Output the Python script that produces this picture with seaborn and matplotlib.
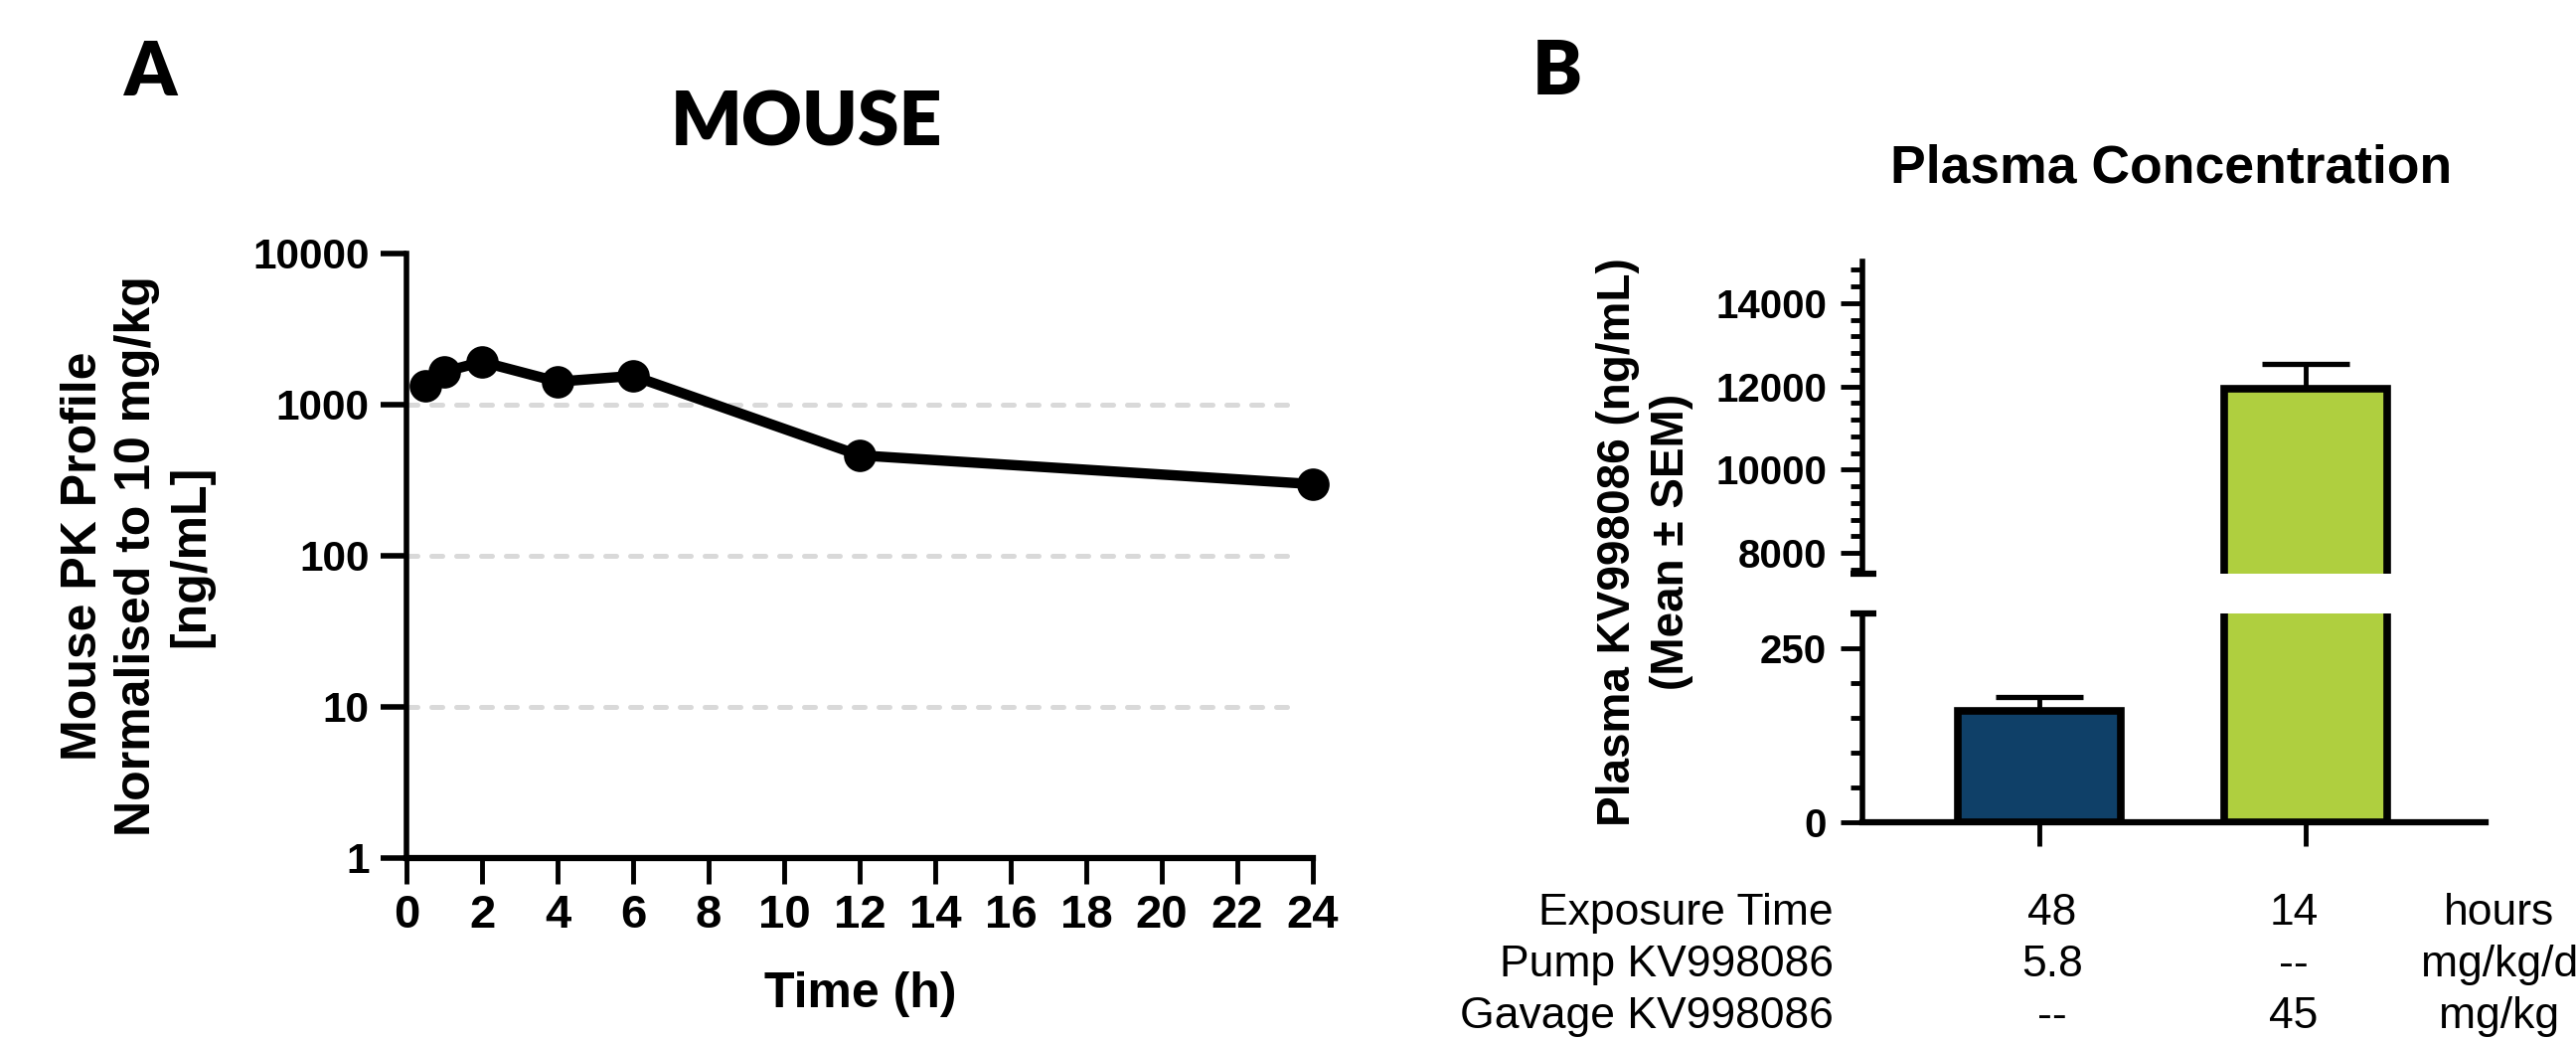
import numpy as np
import pandas as pd
import matplotlib
matplotlib.use("Agg")
import matplotlib.pyplot as plt
from matplotlib.ticker import MultipleLocator, NullLocator, FixedLocator
import seaborn as sns

# ---------------- data ----------------
# Panel A: mouse PK profile (normalised to 10 mg/kg)
time_h = [0.5, 1, 2, 4, 6, 12, 24]
conc_ng_ml = [1330, 1650, 1920, 1420, 1550, 462, 298]
a_yticks = [1, 10, 100, 1000, 10000]
a_grid_levels = [10, 100, 1000]
a_xticks = list(range(0, 25, 2))

# Panel B: plasma concentration (mean +/- SEM)
groups = ["Pump", "Gavage"]
mean_conc = [160, 11950]
sem_conc = [20, 600]
bar_colors = ["#0F4068", "#AFCF3F"]
upper_ticks = [8000, 10000, 12000, 14000]
lower_ticks = [0, 250]
lower_minor = [50, 100, 150, 200]

table_rows = ["Exposure Time", "Pump KV998086", "Gavage KV998086"]
table_col1 = ["48", "5.8", "--"]
table_col2 = ["14", "--", "45"]
table_units = ["hours", "mg/kg/d", "mg/kg"]

# ---------------- style ----------------
sns.set_style("ticks")
plt.rcParams["font.family"] = ["Liberation Sans", "DejaVu Sans"]
plt.rcParams.update({
    "text.color": "black", "axes.labelcolor": "black",
    "xtick.color": "black", "ytick.color": "black",
    "axes.edgecolor": "black",
})

W, H = 2592, 1047
fig = plt.figure(figsize=(W / 100, H / 100), dpi=100)


def px_axes(l, t, r, b):
    return fig.add_axes([l / W, 1 - b / H, (r - l) / W, (b - t) / H])


# ================= Panel A =================
axA = px_axes(409, 255, 1321, 863)
dfA = pd.DataFrame({"time": time_h, "conc": conc_ng_ml})
sns.lineplot(data=dfA, x="time", y="conc", ax=axA, color="black", lw=7.5,
             marker="o", markersize=23.5, markeredgewidth=0, errorbar=None,
             clip_on=False, zorder=5)
axA.set_yscale("log")
axA.set_ylim(1, 10000)
axA.set_xlim(0, 24)
for g in a_grid_levels:
    axA.axhline(g, color="#D9D9D9", lw=3.6, ls=(0, (2.2, 2.8)),
                dash_capstyle="round", xmax=0.985, zorder=0)

axA.set_yticks(a_yticks)
axA.set_yticklabels([str(v) for v in a_yticks])
axA.yaxis.set_minor_locator(NullLocator())
axA.set_xticks(a_xticks)
axA.set_xticklabels([str(v) for v in a_xticks])
for s in ["top", "right"]:
    axA.spines[s].set_visible(False)
axA.spines["left"].set_linewidth(4)
axA.spines["bottom"].set_linewidth(4.5)
axA.tick_params(axis="y", which="major", left=True, length=19, width=4,
                labelsize=30.5, pad=8)
axA.tick_params(axis="x", which="major", bottom=True, length=19, width=3.5,
                labelsize=34, pad=7)
for lab in axA.get_xticklabels() + axA.get_yticklabels():
    lab.set_fontweight("bold")
axA.set_xlabel("")
axA.set_ylabel("")

fig.text(138 / W, 1 - 559 / H, "Mouse PK Profile\nNormalised to 10 mg/kg\n[ng/mL]",
         rotation=90, ha="center", va="center", fontsize=36, fontweight="bold",
         linespacing=1.22, multialignment="center")
fig.text(866 / W, 1 - 1000 / H, "Time (h)", ha="center", va="center",
         fontsize=36, fontweight="bold")
fig.text(125 / W, 1 - 96 / H, "A", ha="left", va="baseline", fontsize=54,
         family=["Lato", "DejaVu Sans"], fontweight="heavy")
fig.text(812 / W, 1 - 147 / H, "MOUSE", ha="center", va="baseline", fontsize=54,
         family=["Lato", "DejaVu Sans"], fontweight="heavy")

# ================= Panel B =================
axBu = px_axes(1874, 263, 2501, 577)
axBl = px_axes(1874, 617, 2501, 827)
dfB = pd.DataFrame({"group": groups, "mean": mean_conc, "sem": sem_conc})

for ax in (axBu, axBl):
    sns.barplot(data=dfB, x="group", y="mean", hue="group", palette=bar_colors,
                ax=ax, width=0.615, edgecolor="black", linewidth=5.5,
                saturation=1, errorbar=None, legend=False, zorder=3)
    ax.errorbar(x=np.arange(len(groups)), y=dfB["mean"],
                yerr=[np.zeros(len(groups)), dfB["sem"]], fmt="none",
                ecolor="black", elinewidth=3.5, capsize=32, capthick=3.8, zorder=2)
    ax.set_xlim(-0.664, 1.675)
    ax.set_xlabel("")
    ax.set_ylabel("")
    for s in ["top", "right"]:
        ax.spines[s].set_visible(False)
    ax.spines["left"].set_linewidth(4)
    ax.spines["bottom"].set_linewidth(4.5)
    ax.tick_params(axis="y", which="major", left=True, length=16, width=3.5,
                   labelsize=29, pad=10)
    ax.tick_params(axis="y", which="minor", left=True, length=8.5, width=3.5)

# upper segment
axBu.set_ylim(7500, 15000)
axBu.set_yticks(upper_ticks)
axBu.set_yticklabels([str(v) for v in upper_ticks])
axBu.yaxis.set_minor_locator(MultipleLocator(400))
axBu.spines["bottom"].set_visible(False)
axBu.tick_params(axis="x", which="both", bottom=False, labelbottom=False)
axBu.plot([-0.019, 0.0223], [0, 0], transform=axBu.transAxes, color="black",
          lw=4.5, clip_on=False, solid_capstyle="butt")

# lower segment
axBl.set_ylim(0, 300)
axBl.set_yticks(lower_ticks)
axBl.set_yticklabels([str(v) for v in lower_ticks])
axBl.yaxis.set_minor_locator(FixedLocator(lower_minor))
axBl.tick_params(axis="x", which="major", bottom=True, length=17, width=3.5,
                 labelbottom=False)
axBl.tick_params(axis="x", which="minor", bottom=False)
axBl.plot([-0.019, 0.0223], [1, 1], transform=axBl.transAxes, color="black",
          lw=4.5, clip_on=False, solid_capstyle="butt")

for ax in (axBu, axBl):
    for lab in ax.get_yticklabels():
        lab.set_fontweight("bold")

fig.text(1655 / W, 1 - 545 / H, "Plasma KV998086 (ng/mL)\n(Mean ± SEM)",
         rotation=90, ha="center", va="center", fontsize=33, fontweight="bold",
         linespacing=1.3, multialignment="center")
fig.text(2185 / W, 1 - 183 / H, "Plasma Concentration", ha="center", va="baseline",
         fontsize=38.5, fontweight="bold")
fig.text(1542 / W, 1 - 95 / H, "B", ha="left", va="baseline", fontsize=54,
         family=["Lato", "DejaVu Sans"], fontweight="heavy")

# table under the bars
row_baselines = [930, 982, 1034]
for i, yb in enumerate(row_baselines):
    yf = 1 - yb / H
    fig.text(1845 / W, yf, table_rows[i], ha="right", va="baseline", fontsize=32)
    fig.text(2065 / W, yf, table_col1[i], ha="center", va="baseline", fontsize=32)
    fig.text(2308 / W, yf, table_col2[i], ha="center", va="baseline", fontsize=32)
    fig.text(2515 / W, yf, table_units[i], ha="center", va="baseline", fontsize=32)

fig.savefig("out.png", dpi=100)
